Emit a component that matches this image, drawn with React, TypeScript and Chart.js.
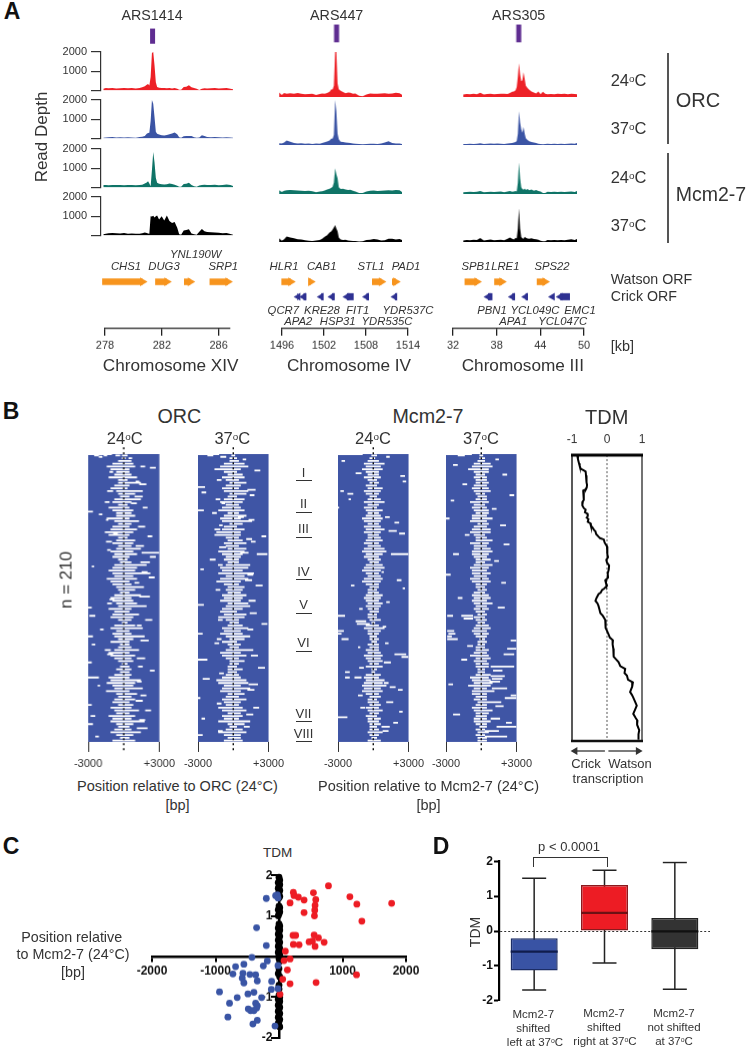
import React, { useEffect, useRef } from "react";
import { Chart, registerables } from "chart.js";

Chart.register(...registerables);
const FONT = "'Liberation Sans', Arial, sans-serif";
Chart.defaults.font.family = FONT;
Chart.defaults.color = "#333";

/* ---------- Panel A: read depth tracks (x = % of the window, y = reads) ---------- */
const posA = [0,2,4,7,10,13,16,19,22,25,28,30,32,33.5,34.5,35.5,36.5,37.5,38.5,39.5,40.5,41.5,43,45,47,49,51,53,55,57,58.5,60,62,64,66,68,70,72,74,76,78,80,83,86,89,92,95,98,100];
const redA = [80,130,110,120,100,110,120,110,120,100,130,170,210,300,330,260,700,1950,2000,1300,420,180,140,130,120,110,120,100,120,90,30,40,180,190,270,160,120,80,20,90,110,100,110,120,100,110,120,90,60];
const blueA = [40,50,60,70,50,60,50,60,50,40,70,90,130,240,280,300,900,2000,1800,1100,350,240,200,170,150,180,210,260,310,220,60,30,110,130,120,130,60,30,50,170,130,70,60,70,60,50,60,50,30];
const tealA = [120,130,110,120,130,120,110,120,130,110,120,140,200,260,320,200,60,900,1850,1300,500,240,190,170,150,170,200,180,140,90,40,30,180,190,240,130,60,30,100,130,140,120,130,140,110,120,150,130,70];
const blackA = [60,90,110,130,110,100,120,90,100,80,90,110,150,130,100,80,1000,980,1020,930,1000,1040,830,1000,780,1030,750,640,700,400,60,30,260,280,320,100,60,40,190,330,220,180,170,150,140,110,130,70,40];

const posB = [0,2,4,6,9,12,15,18,21,24,27,30,33,35,37,39,41,42.5,43.5,44.5,45.5,46.5,47.5,48.5,50,52,54,56,58,60,62,65,68,71,74,77,80,83,86,89,92,95,98,100];
const redB = [200,90,180,150,170,140,180,150,120,130,150,90,130,160,140,180,230,350,330,500,2000,2050,600,350,280,220,170,200,190,140,160,60,30,110,160,150,140,160,170,140,160,190,170,100];
const blueB = [80,70,110,200,140,90,70,80,60,70,50,70,60,90,120,160,200,290,280,450,2000,1500,500,260,150,130,110,100,90,70,60,40,30,40,60,60,50,70,110,170,90,70,70,50];
const tealB = [170,90,140,170,180,170,160,140,130,150,120,80,110,120,160,200,230,280,320,500,1150,880,700,300,220,230,200,180,190,150,110,40,40,110,150,160,130,150,160,170,160,180,170,90];
const blackB = [170,60,120,250,200,170,120,110,80,60,50,70,90,140,230,300,420,480,560,650,760,600,480,200,110,90,100,70,60,40,50,20,30,90,100,130,110,70,80,150,140,110,130,90];

const posC = [0,3,6,9,12,15,18,21,24,27,30,33,36,39,41,43,44.5,46,47,48,49,50,51,52,53,54,55,56.5,58,60,62,64,66,68,70,72,74,77,80,83,86,89,92,95,98,100];
const redC = [110,130,120,140,120,190,110,130,140,120,130,150,140,130,180,230,250,300,450,900,1500,1000,700,750,1100,800,500,400,320,250,200,160,250,120,230,150,120,130,120,140,130,140,120,150,130,120];
const blueC = [40,50,60,50,60,80,50,60,70,60,70,60,50,70,80,90,110,130,180,500,1500,1000,700,550,800,500,300,220,170,130,110,90,60,50,30,40,60,50,60,50,60,50,60,70,60,90];
const tealC = [80,90,100,90,100,130,80,90,100,90,100,110,80,110,130,100,110,130,110,500,1400,700,300,220,190,240,180,220,170,200,150,180,130,110,50,40,100,90,100,90,100,90,100,110,90,130];
const blackC = [70,90,80,100,90,180,70,90,110,80,90,100,80,140,200,150,110,190,160,600,1500,600,220,170,150,230,190,160,150,170,130,120,100,60,30,30,90,80,90,80,90,80,100,120,90,130];

const arsPositions = [38, 46.7, 48.8];
const arsNames = ["ARS1414", "ARS447", "ARS305"];
const trackColors = ["#ed2127", "#3b54a4", "#0f7467", "#000000"];

/* ---------- Panel A: ORFs, [start kb, end kb] ---------- */
const watsonXIV = [[277.8,280.64],[281.53,282.35],[283.56,284.0],[285.36,286.65]];
const watsonIV = [[1495.91,1497.25],[1499.81,1500.1],[1508.86,1510.2],[1511.71,1512.25]];
const crickIV = [[1498.3,1498.2],[1499.07,1499.49],[1501.6,1501.91],[1503.13,1503.53],[1505.27,1506.24],[1508.07,1508.43],[1512.13,1512.43]];
const watsonIII = [[33.59,35.29],[37.66,38.71],[43.51,44.64]];
const crickIII = [[36.81,37.42],[40.15,40.53],[41.98,42.27],[45.67,45.7],[46.73,48.07]];
const kbTicksXIV = [278,282,286];
const kbTicksIV = [1496,1502,1508,1514];
const kbTicksIII = [32,38,44,50];

/* ---------- Panel B: heat maps, central white span per second row, in bins of 160 bp ---------- */
const orc24L = [1,1,3,6,9,7,4,5,8,3,3,5,7,4,3,2,4,6,3,8,6,4,4,9,5,3,6,7,10,8,3,4,6,3,4,7,5,6,3,2,5,6,8,6,5,9,7,6,4,3,2,5,7,6,4,3,8,5,6,7,3,1,5,7,4,6,5,3,7,2,3,5,8,7,5,3,1,2,4,2,5,8,7,9,6,5,8,4,3,5,6,3,7,5,4,8,6,7,4,3,5,7,4,2,6];
const orc24R = [2,1,4,5,6,3,3,4,7,2,9,3,2,10,6,3,9,4,2,3,5,4,6,3,8,4,3,7,5,3,2,6,5,4,9,5,7,3,2,4,12,7,6,14,5,7,3,4,8,6,3,9,4,5,7,12,4,3,8,5,4,2,6,10,3,4,11,5,3,3,4,8,3,6,4,5,2,3,4,3,4,3,9,6,5,10,3,7,4,6,3,5,4,8,3,6,4,11,5,3,4,9,5,3,6];
const orc37L = [1,2,2,5,7,10,5,3,6,4,2,4,6,5,2,3,5,7,4,6,8,3,5,7,6,2,5,6,9,10,4,3,5,4,3,8,6,4,5,3,4,7,6,8,4,7,9,5,3,4,3,6,5,7,3,4,6,7,5,8,4,2,3,6,5,7,4,2,6,3,2,4,7,6,4,2,2,3,3,3,4,6,9,8,5,6,7,3,4,6,5,4,8,6,3,6,5,8,3,2,4,8,5,3,5];
const orc37R = [1,2,3,6,8,4,2,5,6,3,7,4,3,8,7,2,6,5,3,4,6,3,7,4,10,5,2,6,4,4,3,5,7,3,7,6,5,4,3,3,9,8,5,11,6,8,4,3,6,5,4,7,5,4,8,9,5,2,7,6,3,3,5,8,4,5,9,6,2,4,3,6,4,7,3,6,3,2,5,2,3,4,7,8,4,9,4,6,3,7,4,3,5,7,4,5,3,9,6,2,5,7,4,4,5];
const mcm24L = [1,2,3,5,4,6,4,3,5,3,2,4,3,5,4,2,3,5,3,5,4,3,4,6,5,3,5,4,5,3,3,4,5,3,5,6,4,5,3,2,4,5,6,4,3,5,6,4,2,3,3,4,5,4,3,4,3,2,3,3,2,1,4,5,3,3,2,2,1,3,2,4,3,5,4,3,2,4,1,1,4,5,4,5,6,5,6,4,2,3,3,2,4,3,2,4,3,3,2,2,2,3,2,1,3];
const mcm24R = [2,1,3,6,4,5,3,3,4,2,3,2,5,4,3,2,4,6,3,2,5,3,4,5,4,3,4,6,4,3,4,5,3,4,6,7,5,3,4,3,5,6,4,3,4,5,4,3,3,2,3,5,4,3,5,4,3,3,2,2,4,1,3,6,4,3,2,3,2,3,3,3,4,5,4,5,3,5,2,1,4,3,6,5,7,4,5,3,4,2,3,4,3,5,3,2,4,3,4,2,3,5,3,2,4];
const mcm37L = [1,1,2,4,5,7,4,3,4,3,3,4,5,4,3,2,3,6,4,5,4,3,5,5,6,2,4,5,6,4,3,3,6,4,4,5,5,4,3,3,4,6,5,5,4,6,5,3,3,2,4,5,4,5,4,3,4,3,2,4,3,2,3,4,5,4,3,1,2,2,3,3,4,6,3,4,3,3,2,2,3,6,5,4,7,4,5,5,3,4,2,3,5,4,3,3,4,4,3,1,3,2,3,2,2];
const mcm37R = [1,2,2,5,6,4,4,2,3,3,4,3,4,5,2,3,3,4,2,3,4,4,3,6,3,4,3,5,5,2,3,6,4,3,5,6,4,3,5,2,6,4,3,5,3,4,5,3,2,3,2,4,5,3,6,3,4,2,3,2,3,2,4,5,3,4,3,2,3,2,2,4,3,4,5,3,4,4,2,2,5,4,5,6,5,3,7,3,3,3,4,3,3,6,4,3,3,5,3,3,2,4,2,3,3];
/* scattered white spans: [row, from, to], in hundreds of bp */
const orc24Spots = [[0,-30,-10],[1,-25,-21],[1,-17,-14],[1,-7,-3],[2,-21,-18],[3,4,7],[9,14,18],[10,22,27],[13,-12,-9],[20,10,13],[33,-8,-6],[35,-16,-12],[36,6,11],[42,-30,-26],[44,-21,-18],[48,-15,-13],[58,-9,-5],[60,20,24],[70,-14,-11],[72,15,30],[75,22,27],[82,-27,-25],[86,15,20],[90,21,26],[94,9,13],[104,13,22],[106,-12,-8],[112,-30,-27],[118,-29,-24],[121,18,24],[128,-20,-17],[133,-30,-26],[139,-27,-24],[146,-14,-9],[149,11,18],[152,-30,-27],[158,22,26],[163,-30,-21],[169,-22,-20],[176,14,19],[183,-30,-27],[187,18,23],[191,-28,-24],[197,-30,-26],[200,11,20],[206,-24,-21],[22,13,19],[27,-14,-9],[31,9,16],[39,16,20],[53,12,18],[64,-15,-10],[67,10,17],[79,14,22],[97,12,17],[109,-14,-10],[125,11,15],[136,14,21],[143,-16,-11],[155,12,16],[166,11,15],[173,-15,-11],[180,10,16],[194,13,18]];
const orc37Spots = [[0,-30,-12],[1,-22,-17],[2,-11,-6],[4,8,11],[12,18,23],[24,-30,-24],[28,-27,-23],[30,14,18],[36,-10,-7],[41,-30,-25],[43,-18,-14],[46,4,9],[52,-12,-9],[60,24,28],[64,15,19],[68,-12,-6],[72,6,13],[73,20,29],[77,-20,-15],[84,-28,-25],[88,12,17],[96,19,25],[103,-9,-5],[110,-30,-25],[116,14,20],[124,24,29],[131,-30,-26],[138,-16,-12],[143,8,17],[150,-30,-22],[156,21,27],[164,-26,-20],[172,12,18],[178,-30,-28],[185,17,22],[193,-27,-24],[199,9,14],[205,-30,-26],[19,-14,-10],[26,12,19],[33,-15,-11],[48,13,18],[55,-16,-11],[62,11,16],[81,-13,-9],[92,10,16],[99,-15,-11],[107,13,19],[121,-13,-9],[128,12,17],[135,-14,-10],[147,15,21],[160,-12,-8],[168,13,21],[182,-14,-10],[190,11,17],[202,-13,-9]];
const mcm24Spots = [[0,-30,-9],[2,11,14],[5,-27,-24],[14,-15,-10],[16,23,27],[20,25,28],[27,-28,-25],[29,-22,-17],[33,-21,-19],[39,-30,-29],[46,10,14],[50,18,22],[56,13,20],[58,22,27],[73,15,30],[86,7,9],[92,20,24],[96,-19,-16],[98,25,27],[118,-30,-24],[122,-15,-6],[124,-14,-3],[129,-30,-25],[131,-30,-27],[135,-27,-21],[141,-13,-11],[146,18,28],[148,24,30],[159,-24,-20],[163,-24,-20],[163,-16,-10],[170,14,19],[172,21,25],[188,22,25],[192,-30,-22],[196,17,21],[202,8,13],[108,11,14],[113,-12,-9],[126,8,11],[138,10,13],[152,9,15],[156,-12,-8],[167,9,13],[176,-13,-9],[181,11,17],[185,-11,-7],[199,7,14]];
const mcm37Spots = [[0,-30,-8],[1,-20,-14],[4,12,15],[8,-24,-20],[15,18,22],[22,-16,-12],[30,24,28],[34,-26,-23],[40,9,13],[47,-30,-27],[52,16,21],[59,-14,-10],[66,19,24],[73,-24,-19],[78,11,15],[88,-30,-26],[94,17,21],[105,-20,-16],[112,14,20],[118,-29,-24],[118,-17,-7],[120,-15,-7],[129,-29,-23],[131,-28,-22],[133,-29,-25],[135,-29,-20],[136,25,30],[140,-12,-7],[142,22,30],[146,19,28],[150,-17,-12],[155,8,28],[158,10,18],[162,8,20],[164,9,18],[166,7,16],[168,-28,-24],[171,9,22],[176,25,30],[178,20,30],[181,5,17],[184,12,19],[190,-24,-18],[193,8,16],[196,21,26],[199,13,30],[202,3,15],[206,3,22]];

/* ---------- Panel B: TDM trace ---------- */
const tdmRows = [0,3,6,8,10,11,12,15,18,20,22,24,25,26,28,30,33,34,35,37,39,40,42,43,45,46,47,49,50,52,53,55,56,58,60,61,62,64,65,67,69,71,73,75,77,79,81,84,87,90,92,94,96,98,99,101,102,105,107,109,111,113,116,118,121,124,127,129,132,134,136,139,142,145,148,150,152,155,157,160,162,165,167,170,172,174,176,178,181,184,187,190,193,195,198,202,205,209];
const tdmValues = [-0.85,-0.83,-0.8,-0.78,-0.75,-0.68,-0.61,-0.6,-0.58,-0.59,-0.57,-0.58,-0.6,-0.68,-0.66,-0.67,-0.66,-0.69,-0.7,-0.71,-0.66,-0.61,-0.63,-0.56,-0.55,-0.58,-0.53,-0.55,-0.48,-0.46,-0.42,-0.37,-0.33,-0.31,-0.24,-0.2,-0.09,-0.07,-0.05,0,0.01,0.02,0,0.03,-0.02,0,0.06,0.05,0.02,0.03,-0.05,-0.03,0,-0.08,-0.14,-0.18,-0.24,-0.3,-0.33,-0.27,-0.24,-0.22,-0.19,-0.12,-0.05,-0.03,-0.05,0,0.05,0.08,0.17,0.16,0.18,0.19,0.19,0.26,0.33,0.38,0.52,0.5,0.57,0.6,0.74,0.72,0.69,0.66,0.71,0.75,0.8,0.85,0.8,0.75,0.82,0.87,0.86,0.92,0.9,0.9];

/* ---------- Panel C: [shift bp, TDM] ---------- */
const redPoints = [[779,1.74],[226,1.58],[237,1.5],[305,1.46],[395,1.39],[174,1.32],[542,1.57],[579,1.4],[568,1.26],[563,1.14],[558,1.0],[395,1.08],[1116,1.47],[1226,1.29],[1774,1.31],[1305,0.87],[221,0.52],[263,0.52],[553,0.53],[621,0.46],[474,0.36],[526,0.38],[711,0.35],[226,0.3],[316,0.29],[568,0.25],[100,0.13],[174,-0.06],[79,-0.1],[132,-0.33],[58,-0.56],[174,-0.67],[584,-0.64],[1221,-0.45],[16,-0.93]];
const bluePoints = [[-200,1.43],[-53,1.5],[-26,1.52],[-16,1.44],[-353,0.71],[-200,0.27],[-426,-0.02],[-184,-0.11],[-247,-0.23],[-553,-0.19],[-684,-0.25],[-726,-0.43],[-568,-0.41],[-579,-0.53],[-553,-0.65],[-458,-0.44],[-368,-0.45],[-342,-0.6],[-116,-0.61],[-16,-0.22],[-121,-0.81],[-16,-0.79],[-937,-0.87],[-489,-0.92],[-395,-0.88],[-274,-1.01],[-658,-1.01],[-779,-1.15],[-368,-1.15],[-342,-1.21],[-353,-1.27],[-484,-1.29],[-447,-1.33],[-395,-1.33],[-805,-1.49],[-342,-1.57],[-411,-1.66],[-63,-1.71]];
const blackPoints = [[0,1.95],[12,1.88],[-12,1.82],[12,1.77],[0,1.72],[-12,1.68],[12,1.63],[0,1.58],[-12,1.53],[12,1.48],[0,1.44],[0,1.24],[12,1.2],[-12,1.15],[12,1.1],[0,1.05],[-12,1.0],[0,0.8],[12,0.75],[-12,0.7],[12,0.65],[0,0.6],[-12,0.55],[12,0.5],[0,0.45],[-12,0.4],[12,0.35],[0,0.3],[-12,0.25],[12,0.2],[0,0.15],[-12,0.1],[12,0.05],[0,0.02],[0,-0.05],[12,-0.12],[0,-0.3],[-12,-0.42],[12,-0.5],[0,-0.7],[0,-0.8],[0,-0.95],[12,-1.0],[-12,-1.05],[12,-1.1],[0,-1.15],[-12,-1.2],[12,-1.25],[0,-1.3],[-12,-1.35],[12,-1.4],[0,-1.45],[-12,-1.5],[12,-1.55],[0,-1.6],[-12,-1.65],[0,-1.7],[12,-1.73]];

/* ---------- Panel D: box plots ---------- */
const boxCategories = ["left", "right", "not"];
const boxLow = [-1.69, -0.92, -1.67];
const boxQ1 = [-1.13, 0, -0.52];
const boxMedian = [-0.59, 0.52, -0.01];
const boxQ3 = [-0.21, 1.32, 0.37];
const boxHigh = [1.51, 1.74, 1.96];
const boxFill = ["#3953a4", "#ed1c24", "#333333"];
const boxEdge = ["#1c2d66", "#8a1a1e", "#222222"];
const boxMid = ["#101d4d", "#6e1114", "#111111"];

/* ---------- helpers ---------- */
const areaBg = {
  id: "areaBg",
  beforeDatasetsDraw(c: any, _a: any, o: any) {
    if (!o.color) return;
    const { left, top, width, height } = c.chartArea;
    c.ctx.save();
    c.ctx.fillStyle = o.color;
    c.ctx.fillRect(left, top, width, height);
    c.ctx.restore();
  },
};
const frame = {
  id: "frame",
  afterDatasetsDraw(c: any, _a: any, o: any) {
    if (!o.on) return;
    const { left, right, top, bottom } = c.chartArea;
    const g = c.ctx;
    g.save();
    const seg = (x1: number, y1: number, x2: number, y2: number, w: number, col: string) => {
      g.beginPath(); g.lineWidth = w; g.strokeStyle = col; g.moveTo(x1, y1); g.lineTo(x2, y2); g.stroke();
    };
    seg(left, top, left, bottom, 1.5, "#222");
    seg(right, top, right, bottom, 1.5, "#444");
    seg(left - 1, top, right + 1, top, 3.2, "#000");
    seg(left - 1, bottom, right + 1, bottom, 2.6, "#111");
    g.restore();
  },
};

type Box = { x: number; y: number; w: number; h: number };
type Marg = { l: number; r: number; t: number; b: number };

function Plot({ box, m, config }: { box: Box; m: Marg; config: any }) {
  const ref = useRef<HTMLCanvasElement>(null);
  useEffect(() => {
    const scales = config.options.scales;
    const pad = { left: m.l, right: m.r, top: m.t, bottom: m.b };
    for (const k of Object.keys(scales)) {
      const s = scales[k];
      if (s.display === false || typeof s.position === "object") continue;
      const p = s.position || (k[0] === "x" ? "bottom" : "left");
      (pad as any)[p] = 0;
      const size = (m as any)[p[0]];
      s.afterFit = (sc: any) => {
        if (p === "left" || p === "right") sc.width = size;
        else sc.height = size;
      };
    }
    const chart = new Chart(ref.current as any, {
      ...config,
      plugins: [areaBg, frame],
      options: {
        responsive: false,
        animation: false,
        events: [],
        ...config.options,
        layout: { padding: pad, autoPadding: false },
        plugins: { legend: { display: false }, tooltip: { enabled: false }, ...(config.options.plugins || {}) },
      },
    });
    return () => chart.destroy();
  }, []);
  return (
    <canvas
      ref={ref}
      width={box.w + m.l + m.r}
      height={box.h + m.t + m.b}
      style={{ position: "absolute", left: box.x - m.l, top: box.y - m.t, width: box.w + m.l + m.r, height: box.h + m.t + m.b, pointerEvents: "none" }}
    />
  );
}

type TP = { x: number; y: number; s?: number; a?: "c" | "l"; rot?: boolean; b?: boolean; i?: boolean; col?: string; children: any };
function T({ x, y, s = 14, a = "c", rot, b, i, col = "#333", children }: TP) {
  const tr = rot ? "translate(-50%,-50%) rotate(-90deg)" : a === "c" ? "translate(-50%,-50%)" : "translate(0,-50%)";
  return (
    <div style={{ position: "absolute", left: x, top: y, transform: tr, fontFamily: FONT, fontSize: s, fontWeight: b ? 700 : 400, fontStyle: i ? "italic" : "normal", color: col, whiteSpace: "nowrap", lineHeight: 1 }}>
      {children}
    </div>
  );
}
const Deg = ({ t }: { t: string }) => (
  <>{t}<sup style={{ fontSize: "60%", lineHeight: 0, verticalAlign: "0.42em" }}>o</sup>C</>
);

const fill0 = (pos: number[], vals: number[], color: string) => ({
  type: "line",
  data: pos.map((x, i) => ({ x, y: vals[i] })),
  borderWidth: 0,
  backgroundColor: color,
  fill: "origin",
  pointRadius: 0,
  tension: 0,
  clip: false,
});

const trackRows = [
  { y: 51.7, h: 45.3 },
  { y: 100, h: 45 },
  { y: 149, h: 45 },
  { y: 197.3, h: 45 },
];
const loci = [
  { x: 103, w: 130, pos: posA, tracks: [redA, blueA, tealA, blackA] },
  { x: 279.3, w: 122.4, pos: posB, tracks: [redB, blueB, tealB, blackB] },
  { x: 463, w: 113.7, pos: posC, tracks: [redC, blueC, tealC, blackC] },
];

function Track({ locus, row }: { locus: number; row: number }) {
  const L = loci[locus];
  const R = trackRows[row];
  const axis = locus === 0;
  const xMin = axis ? -1.77 : 0;
  const box = { x: axis ? 100.7 : L.x, y: R.y, w: axis ? 132.3 : L.w, h: R.h };
  const datasets: any[] = [fill0(L.pos, L.tracks[row], trackColors[row])];
  if (row === 0) {
    datasets.push({
      type: "line",
      data: [{ x: arsPositions[locus], y: 2430 }, { x: arsPositions[locus], y: 3220 }],
      borderColor: "#5f2d91",
      borderWidth: 5,
      pointRadius: 0,
      clip: false,
    });
  }
  const config = {
    type: "line",
    data: { datasets },
    options: {
      scales: {
        x: { type: "linear", display: false, min: xMin, max: 100 },
        y: {
          display: axis,
          min: 0,
          max: 2000,
          ticks: { stepSize: 1000, padding: 4, font: { size: 11 }, color: "#333", callback: (v: number) => (v === 0 ? "" : String(v)) },
          grid: { drawOnChartArea: false, tickLength: 10, color: "#333", lineWidth: 1.2 },
          border: { color: "#333", width: 1.2 },
        },
      },
    },
  };
  return <Plot box={box} m={{ l: 40, r: 6, t: 32, b: 4 }} config={config} />;
}

function orfSet(list: number[][], y: number, color: string, watson: boolean) {
  return list.map(([a, b]) => ({
    type: "line",
    data: [{ x: a, y }, { x: b, y }],
    borderColor: color,
    backgroundColor: color,
    borderWidth: watson ? 6.5 : 7,
    pointStyle: "triangle",
    pointRotation: watson ? 90 : -90,
    pointBackgroundColor: color,
    pointBorderColor: color,
    pointBorderWidth: 0,
    pointRadius: watson ? [0, 5] : [4.5, 0],
    clip: false,
  }));
}
function orfChart(box: Box, min: number, max: number, ticks: number[], w: number[][], c: number[][]) {
  const datasets: any[] = [...orfSet(w, 0.8, "#f7941d", true), ...orfSet(c, 0.545, "#2e3192", false)];
  const config = {
    type: "line",
    data: { datasets },
    options: {
      scales: {
        x: {
          type: "linear",
          min,
          max,
          afterBuildTicks: (s: any) => { s.ticks = ticks.map((value) => ({ value })); },
          ticks: { autoSkip: false, maxRotation: 0, padding: 3, font: { size: 11 }, color: "#333", callback: (v: number) => String(v) },
          grid: { drawOnChartArea: false, tickLength: 7, color: "#222", lineWidth: 1.3 },
          border: { color: "#222", width: 1.3 },
        },
        y: { display: false, min: 0, max: 1 },
      },
    },
  };
  return <Plot box={box} m={{ l: 30, r: 30, t: 8, b: 40 }} config={config} />;
}

function heatChart(x: number, L: number[], R: number[], spots: number[][]) {
  const seg: any[] = [];
  L.forEach((l, i) => {
    seg.push({ x: -l * 160, y: i * 2 + 1 }, { x: R[i] * 160, y: i * 2 + 1 }, { x: null, y: null });
  });
  spots.forEach(([r, a, b]) => {
    seg.push({ x: a * 100, y: r }, { x: b * 100, y: r }, { x: null, y: null });
  });
  const config = {
    type: "scatter",
    data: {
      datasets: [
        { data: [{ x: 0, y: -5 }, { x: 0, y: 218 }], showLine: true, borderColor: "#000", borderWidth: 1.4, borderDash: [2, 3], pointRadius: 0, clip: false },
        { data: seg, showLine: true, borderColor: "#ffffff", borderWidth: 1.8, pointRadius: 0, spanGaps: false },
      ],
    },
    options: {
      plugins: { areaBg: { color: "#3f55a5" } },
      scales: {
        x: {
          type: "linear",
          min: -3000,
          max: 3000,
          afterBuildTicks: (s: any) => { s.ticks = [{ value: -3000 }, { value: 3000 }]; },
          ticks: { autoSkip: false, maxRotation: 0, padding: 5, font: { size: 11 }, color: "#333", callback: (v: number) => (v > 0 ? "+" + v : String(v)) },
          grid: { drawOnChartArea: false, tickLength: 10, color: "#333", lineWidth: 1 },
          border: { display: false },
        },
        y: { display: false, reverse: true, min: 0, max: 210 },
      },
    },
  };
  return <Plot box={{ x, y: 454, w: 71.5, h: 287.7 }} m={{ l: 20, r: 20, t: 10, b: 32 }} config={config} />;
}

function tdmChart() {
  const config = {
    type: "scatter",
    data: {
      datasets: [
        { data: tdmRows.map((y, i) => ({ x: tdmValues[i], y })), showLine: true, borderColor: "#000", borderWidth: 2, pointRadius: 0, tension: 0, clip: false },
        { data: [{ x: 0, y: 0 }, { x: 0, y: 210 }], showLine: true, borderColor: "#555", borderWidth: 1, borderDash: [2, 2], pointRadius: 0 },
      ],
    },
    options: {
      plugins: { frame: { on: true } },
      scales: {
        x: {
          type: "linear",
          position: "top",
          min: -1,
          max: 1,
          afterBuildTicks: (s: any) => { s.ticks = [{ value: -1 }, { value: 0 }, { value: 1 }]; },
          ticks: { autoSkip: false, maxRotation: 0, padding: 8, font: { size: 12 }, color: "#333", callback: (v: number) => String(v) },
          grid: { display: false, drawTicks: false },
          border: { display: false },
        },
        y: { display: false, reverse: true, min: 0, max: 210 },
      },
    },
  };
  return <Plot box={{ x: 571.7, y: 455, w: 70.6, h: 285.7 }} m={{ l: 20, r: 20, t: 28, b: 4 }} config={config} />;
}

function strandArrows() {
  const arrow = (a: number, b: number, rot: number) => ({
    data: [{ x: a, y: 0.5 }, { x: b, y: 0.5 }],
    showLine: true,
    borderColor: "#333",
    borderWidth: 1.3,
    pointStyle: "triangle",
    pointRotation: rot,
    pointBackgroundColor: "#333",
    pointBorderWidth: 0,
    pointRadius: [0, 4.5],
    clip: false,
  });
  const config = {
    type: "scatter",
    data: { datasets: [arrow(-0.06, -0.91, -90), arrow(0.04, 0.89, 90)] },
    options: {
      scales: {
        x: { type: "linear", display: false, min: -1, max: 1 },
        y: { display: false, min: 0, max: 1 },
      },
    },
  };
  return <Plot box={{ x: 571.7, y: 745, w: 70.6, h: 12 }} m={{ l: 8, r: 8, t: 2, b: 2 }} config={config} />;
}

function scatterChart() {
  const dots = (pts: number[][], color: string) => ({
    data: pts.map(([x, y]) => ({ x, y })),
    backgroundColor: color,
    borderColor: color,
    pointRadius: 3.4,
    borderWidth: 0,
    clip: false,
  });
  const tick = { color: "#111", font: { size: 12, weight: "bold" }, autoSkip: false, maxRotation: 0 };
  const config = {
    type: "scatter",
    data: { datasets: [dots(bluePoints, "#3a55a5"), dots(redPoints, "#ed1c24"), dots(blackPoints, "#000")] },
    options: {
      scales: {
        x: {
          type: "linear",
          position: { y: 0 },
          min: -2000,
          max: 2000,
          ticks: { ...tick, stepSize: 1000, padding: 3, callback: (v: number) => (v === 0 ? "" : String(v)) },
          grid: { drawOnChartArea: false, tickLength: 4, color: "#000", lineWidth: 2 },
          border: { color: "#000", width: 2.5 },
        },
        y: {
          type: "linear",
          position: { x: 0 },
          min: -2,
          max: 2,
          ticks: { ...tick, stepSize: 1, padding: 1, callback: (v: number) => (v === 0 ? "" : v + "  ") },
          grid: { drawOnChartArea: false, tickLength: 7, color: "#000", lineWidth: 2 },
          border: { color: "#000", width: 2.5 },
        },
      },
    },
  };
  return <Plot box={{ x: 151.7, y: 873.3, w: 254, h: 166.7 }} m={{ l: 30, r: 30, t: 6, b: 6 }} config={config} />;
}

function boxChart() {
  const whiskers = boxCategories.map((c, i) => ({
    type: "line",
    order: 3,
    data: [{ x: c, y: boxLow[i] }, { x: c, y: boxHigh[i] }],
    borderColor: "#222",
    borderWidth: 1.5,
    pointStyle: "line",
    pointRadius: 12,
    pointBorderColor: "#222",
    pointBorderWidth: 1.5,
  }));
  const config = {
    type: "bar",
    data: {
      labels: boxCategories,
      datasets: [
        ...whiskers,
        {
          type: "bar",
          order: 2,
          data: boxCategories.map((_, i) => [boxQ1[i], boxQ3[i]]),
          backgroundColor: boxFill,
          borderColor: boxEdge,
          borderWidth: 1.5,
          borderSkipped: false,
          barPercentage: 0.669,
          categoryPercentage: 1,
        },
        {
          type: "line",
          order: 1,
          showLine: false,
          data: boxCategories.map((c, i) => ({ x: c, y: boxMedian[i] })),
          pointStyle: "line",
          pointRadius: 23.5,
          pointBorderColor: boxMid,
          pointBorderWidth: 2.3,
        },
      ],
    },
    options: {
      scales: {
        x: { display: false, type: "category" },
        y: {
          min: -2,
          max: 2,
          ticks: { stepSize: 1, padding: 1, color: "#111", font: { size: 12, weight: "bold" } },
          grid: {
            tickLength: 5,
            tickColor: "#000",
            tickWidth: 2,
            color: (c: any) => (c.tick && c.tick.value === 0 ? "#333" : "transparent"),
            lineWidth: 1,
          },
          border: { color: "#000", width: 2.2, dash: [2, 2] },
        },
      },
    },
  };
  return <Plot box={{ x: 498.5, y: 860.7, w: 211, h: 140.3 }} m={{ l: 30, r: 6, t: 8, b: 8 }} config={config} />;
}

const geneLabels: [string, number, number][] = [
  ["YNL190W", 195.7, 255], ["CHS1", 126, 266.7], ["DUG3", 164, 266.7], ["SRP1", 223.3, 266.7],
  ["HLR1", 284, 266.7], ["CAB1", 321.7, 266.7], ["STL1", 371, 266.7], ["PAD1", 406, 266.7],
  ["SPB1", 476, 266.7], ["LRE1", 505.3, 266.7], ["SPS22", 552, 266.7],
  ["QCR7", 283.3, 310.7], ["KRE28", 322, 310.7], ["FIT1", 357.7, 310.7], ["YDR537C", 408, 310.7],
  ["PBN1", 492, 310.7], ["YCL049C", 535, 310.7], ["EMC1", 580, 310.7],
  ["APA2", 298.3, 322], ["HSP31", 337.7, 322], ["YDR535C", 387, 322], ["APA1", 513.3, 322], ["YCL047C", 562.7, 322],
];
const clusters: [string, number, number][] = [
  ["I", 471.7, 479.7], ["II", 503.3, 511.7], ["III", 528.3, 537], ["IV", 570.7, 578.7],
  ["V", 604, 612.7], ["VI", 642.3, 650.7], ["VII", 712.7, 720.7], ["VIII", 733.3, 740.7],
];
const Rule = ({ x, y, w, h, c = "#333" }: any) => (
  <div style={{ position: "absolute", left: x, top: y, width: w, height: h, background: c }} />
);

export default function App() {
  return (
    <div style={{ position: "absolute", left: 0, top: 0, width: 748, height: 1048, overflow: "hidden", background: "#fff" }}>
      {[0, 1, 2].map((l) => [0, 1, 2, 3].map((r) => <Track key={l + "-" + r} locus={l} row={r} />))}
      {orfChart({ x: 104.5, y: 270, w: 125.8, h: 58.7 }, 278, 286.8, kbTicksXIV, watsonXIV, [])}
      {orfChart({ x: 282.3, y: 270, w: 126, h: 58.7 }, 1496, 1514, kbTicksIV, watsonIV, crickIV)}
      {orfChart({ x: 452.7, y: 270, w: 131.4, h: 58.7 }, 32, 50, kbTicksIII, watsonIII, crickIII)}
      {heatChart(88, orc24L, orc24R, orc24Spots)}
      {heatChart(197.5, orc37L, orc37R, orc37Spots)}
      {heatChart(337.5, mcm24L, mcm24R, mcm24Spots)}
      {heatChart(445.8, mcm37L, mcm37R, mcm37Spots)}
      {tdmChart()}
      {strandArrows()}
      {scatterChart()}
      {boxChart()}

      {/* Panel A text */}
      <T x={12} y={11} s={23} b col="#111">A</T>
      <T x={40.7} y={136.7} s={17} rot>Read Depth</T>
      {arsNames.map((n, i) => <T key={n} x={[152, 336.7, 518.7][i]} y={14.7} s={14.3}>{n}</T>)}
      {[80, 128, 177, 225].map((y, i) => <T key={y} x={610.7} y={y} s={16.5} a="l"><Deg t={i % 2 ? "37" : "24"} /></T>)}
      <Rule x={667} y={53} w={1.6} h={91} c="#555" />
      <Rule x={667} y={153} w={1.6} h={90} c="#555" />
      <T x={675.7} y={100} s={20} a="l">ORC</T>
      <T x={675.7} y={195} s={19.5} a="l">Mcm2-7</T>
      {geneLabels.map(([n, x, y]) => <T key={n} x={x} y={y} s={11.3} i>{n}</T>)}
      <T x={610.7} y={279.3} s={14.2} a="l">Watson ORF</T>
      <T x={610.7} y={295.7} s={14.2} a="l">Crick ORF</T>
      <T x={610.7} y={345.7} s={14.4} a="l">[kb]</T>
      <T x={170.7} y={365.7} s={17.2}>Chromosome XIV</T>
      <T x={349} y={365.7} s={17.2}>Chromosome IV</T>
      <T x={522.8} y={365.7} s={17.2}>Chromosome III</T>

      {/* Panel B text */}
      <T x={11} y={411} s={23} b col="#111">B</T>
      <T x={179.3} y={416.7} s={19.7}>ORC</T>
      <T x={428} y={416.7} s={19.7}>Mcm2-7</T>
      <T x={606.7} y={416.7} s={20}>TDM</T>
      {[124.7, 373].map((x) => <T key={x} x={x} y={438} s={16.5}><Deg t="24" /></T>)}
      {[232.3, 481].map((x) => <T key={x} x={x} y={438} s={16.5}><Deg t="37" /></T>)}
      <T x={66} y={580} s={17} rot>n = 210</T>
      {clusters.map(([n, y, ly]) => (
        <React.Fragment key={n}>
          <T x={303.5} y={y} s={13}>{n}</T>
          <Rule x={296} y={ly} w={16} h={1.2} c="#333" />
        </React.Fragment>
      ))}
      <T x={177.5} y={786.3} s={14.5}>Position relative to ORC (24°C)</T>
      <T x={177.5} y={804.5} s={14.5}>[bp]</T>
      <T x={428.5} y={786.3} s={14.5}>Position relative to Mcm2-7 (24°C)</T>
      <T x={428.5} y={804.5} s={14.5}>[bp]</T>
      <T x={586} y={763.3} s={13}>Crick</T>
      <T x={630} y={763.3} s={13}>Watson</T>
      <T x={608} y={778} s={13}>transcription</T>

      {/* Panel C text */}
      <T x={11} y={846} s={23} b col="#111">C</T>
      <T x={277.7} y={852.7} s={13.5}>TDM</T>
      <T x={71.7} y={936.7} s={14.3}>Position relative</T>
      <T x={73} y={954} s={14.3}>to Mcm2-7 (24°C)</T>
      <T x={73} y={971.7} s={14.3}>[bp]</T>

      {/* Panel D text */}
      <T x={441} y={846} s={23} b col="#111">D</T>
      <T x={569} y={846} s={13}>p &lt; 0.0001</T>
      <div style={{ position: "absolute", left: 533.3, top: 856.5, width: 72.3, height: 9, borderTop: "1.2px solid #333", borderLeft: "1.2px solid #333", borderRight: "1.2px solid #333" }} />
      <T x={475} y={931.7} s={14} rot>TDM</T>
      <T x={533.3} y={1015} s={11.5}>Mcm2-7</T>
      <T x={533.3} y={1029.3} s={11.5}>shifted</T>
      <T x={535} y={1042.7} s={11.5}>left at <Deg t="37" /></T>
      <T x={604} y={1014} s={11.5}>Mcm2-7</T>
      <T x={604} y={1028} s={11.5}>shifted</T>
      <T x={605} y={1041.7} s={11.5}>right at <Deg t="37" /></T>
      <T x={674} y={1014} s={11.5}>Mcm2-7</T>
      <T x={674} y={1028} s={11.5}>not shifted</T>
      <T x={674} y={1041.7} s={11.5}>at <Deg t="37" /></T>
    </div>
  );
}
